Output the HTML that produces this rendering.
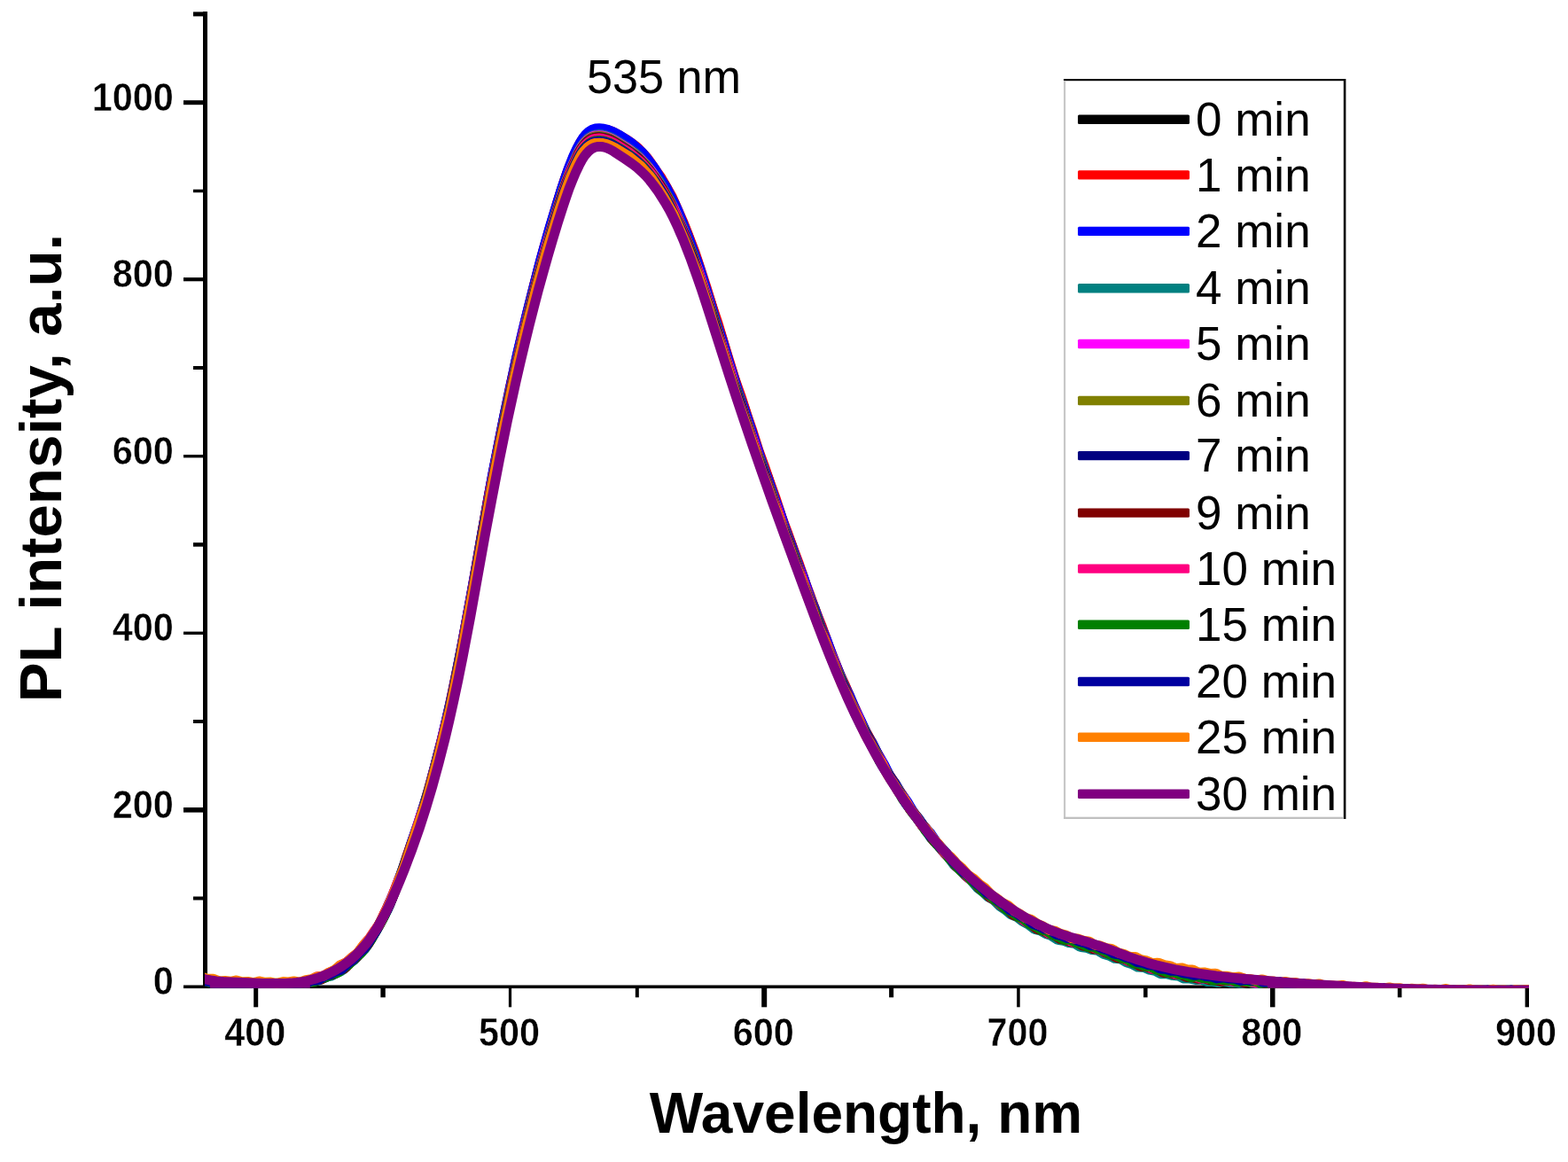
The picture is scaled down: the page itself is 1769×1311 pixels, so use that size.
<!DOCTYPE html>
<html><head><meta charset="utf-8"><title>PL intensity vs Wavelength</title>
<style>
html,body{margin:0;padding:0;background:#fff;}
body{width:1769px;height:1311px;overflow:hidden;}
svg{display:block;}
text{font-family:"Liberation Sans",sans-serif;fill:#000;}
.tl{font-weight:bold;font-size:41.4px;stroke:#fff;stroke-width:0.45px;}
.xt{font-weight:bold;font-size:64px;}
.yt{font-weight:bold;font-size:67.3px;}
.lg{font-size:53px;}
</style></head><body>
<svg width="1769" height="1311" viewBox="0 0 1769 1311">
<rect width="1769" height="1311" fill="#fff"/>
<defs><clipPath id="plot"><rect x="231" y="0" width="1494" height="1114.7"/></clipPath></defs>

<g fill="#000">
<rect x="229" y="13" width="5" height="1102"/>
<rect x="207" y="1111.5" width="1518" height="3.6"/>
<rect x="218" y="1011.5" width="13" height="4"/>
<rect x="207" y="911.0" width="24" height="5.6"/>
<rect x="218" y="812.0" width="13" height="4"/>
<rect x="207" y="712.6" width="24" height="3.4"/>
<rect x="218" y="612.2" width="13" height="4.5"/>
<rect x="207" y="513.0" width="24" height="3.4"/>
<rect x="218" y="413.0" width="13" height="4"/>
<rect x="207" y="313.1" width="24" height="4.2"/>
<rect x="218" y="213.7" width="13" height="3.5"/>
<rect x="207" y="113.2" width="24" height="5"/>
<rect x="218" y="13.4" width="13" height="5"/>
<rect x="286.2" y="1113" width="5" height="23.3"/>
<rect x="429.4" y="1113" width="5.4" height="12.3"/>
<rect x="573.9" y="1113" width="3.2" height="23.3"/>
<rect x="716.8" y="1113" width="4" height="12.3"/>
<rect x="859.2" y="1113" width="6" height="23.3"/>
<rect x="1003.1" y="1113" width="5" height="12.3"/>
<rect x="1147.2" y="1113" width="3.5" height="23.3"/>
<rect x="1290.1" y="1113" width="4.5" height="12.3"/>
<rect x="1433.0" y="1113" width="5.5" height="23.3"/>
<rect x="1576.8" y="1113" width="4.6" height="12.3"/>
<rect x="1720.6" y="1113" width="4.4" height="23.3"/>
</g>
<text class="tl" transform="translate(195.8,1122.2) scale(1.0,1.07)" text-anchor="end">0</text>
<text class="tl" transform="translate(195.8,922.7) scale(1.0,1.07)" text-anchor="end">200</text>
<text class="tl" transform="translate(195.8,723.2) scale(1.0,1.07)" text-anchor="end">400</text>
<text class="tl" transform="translate(195.8,523.6) scale(1.0,1.07)" text-anchor="end">600</text>
<text class="tl" transform="translate(195.8,324.1) scale(1.0,1.07)" text-anchor="end">800</text>
<text class="tl" transform="translate(195.8,124.6) scale(1.0,1.07)" text-anchor="end">1000</text>
<text class="tl" transform="translate(287.7,1179.9) scale(1.0,1.07)" text-anchor="middle">400</text>
<text class="tl" transform="translate(574.5,1179.9) scale(1.0,1.07)" text-anchor="middle">500</text>
<text class="tl" transform="translate(861.2,1179.9) scale(1.0,1.07)" text-anchor="middle">600</text>
<text class="tl" transform="translate(1148.0,1179.9) scale(1.0,1.07)" text-anchor="middle">700</text>
<text class="tl" transform="translate(1434.7,1179.9) scale(1.0,1.07)" text-anchor="middle">800</text>
<text class="tl" transform="translate(1721.5,1179.9) scale(1.0,1.07)" text-anchor="middle">900</text>
<text class="xt" x="977" y="1277.7" text-anchor="middle">Wavelength, nm</text>
<text class="yt" transform="translate(69.4,528) rotate(-90)" text-anchor="middle">PL intensity, a.u.</text>
<text class="lg" transform="translate(749,105) scale(1,1.04)" text-anchor="middle" style="font-size:52.2px">535 nm</text>
<g clip-path="url(#plot)" fill="none" stroke-width="11.0" stroke-linejoin="round" stroke-linecap="butt">
<path d="M226.0,1103.9 229.8,1104.1 236.5,1107.0 242.8,1107.5 248.5,1109.2 250.5,1109.1 256.0,1107.9 262.2,1109.1 268.8,1108.9 275.0,1110.6 276.8,1110.4 282.0,1109.2 288.2,1110.0 294.0,1109.4 296.0,1109.8 300.0,1111.3 302.0,1111.5 308.0,1110.4 314.5,1110.8 320.2,1109.6 322.2,1109.8 326.2,1110.9 328.5,1110.9 333.8,1109.6 339.8,1109.3 346.5,1106.3 348.2,1106.1 353.5,1106.1 359.8,1103.8 365.2,1102.9 367.5,1101.7 373.0,1097.7 380.0,1095.2 385.5,1091.4 391.0,1088.8 393.5,1086.7 399.0,1080.3 405.5,1074.4 411.5,1066.7 417.8,1060.0 420.2,1056.1 432.0,1034.8 437.8,1021.7 443.0,1010.8 445.5,1004.7 456.5,974.5 463.8,952.0 471.0,932.0 483.0,893.3 498.0,836.4 509.0,789.2 521.5,726.1 534.8,654.3 542.5,608.7 553.8,546.2 568.8,469.8 581.8,408.1 594.0,356.4 607.8,301.7 619.5,260.1 632.8,215.9 640.5,193.4 646.5,178.2 654.5,161.7 657.5,156.9 660.5,153.1 664.0,149.8 667.8,147.4 671.8,146.1 676.2,145.8 681.0,146.2 686.0,147.4 691.0,149.2 696.8,152.0 711.0,160.7 723.2,170.8 726.5,174.5 736.0,186.8 743.5,198.4 749.0,206.3 751.8,211.1 761.0,229.2 775.8,263.8 787.8,297.2 795.5,322.2 802.5,342.8 808.2,361.8 814.5,380.9 821.8,405.9 833.5,442.1 840.5,461.9 847.5,484.5 859.2,519.3 867.0,540.0 873.2,559.1 879.5,576.5 885.8,595.4 893.5,615.2 899.2,632.1 905.8,649.5 912.5,669.7 918.8,685.2 925.2,703.3 931.2,718.3 938.5,738.9 951.0,768.9 958.0,783.8 964.2,799.4 977.0,826.0 983.5,837.0 990.5,851.5 996.8,862.3 1002.0,872.4 1004.5,876.4 1010.0,883.8 1016.0,894.3 1022.5,903.7 1029.0,914.8 1035.8,922.6 1042.2,931.9 1048.2,938.9 1056.0,950.4 1062.0,956.3 1068.2,963.8 1074.5,969.5 1081.8,979.0 1087.8,984.2 1093.5,990.4 1100.8,995.5 1107.5,1003.0 1113.8,1007.9 1119.5,1013.5 1121.5,1014.8 1125.2,1016.4 1127.2,1017.7 1133.0,1023.0 1139.5,1027.2 1145.5,1032.6 1147.5,1033.8 1151.5,1035.0 1153.5,1035.9 1159.2,1040.1 1165.8,1043.1 1170.8,1047.2 1172.8,1048.4 1179.0,1050.1 1185.5,1053.4 1191.2,1054.7 1197.0,1058.5 1199.0,1059.5 1205.0,1060.5 1211.0,1062.8 1217.5,1063.2 1219.2,1063.9 1224.2,1066.8 1230.8,1068.2 1236.5,1070.9 1244.0,1071.7 1250.5,1075.4 1257.0,1077.5 1262.8,1080.9 1264.5,1081.4 1268.5,1081.6 1270.5,1082.0 1276.2,1085.0 1282.8,1086.7 1289.0,1090.3 1291.0,1090.7 1295.8,1090.8 1302.2,1093.1 1308.2,1093.7 1314.0,1096.8 1316.0,1097.5 1322.0,1097.7 1328.2,1099.4 1334.5,1099.2 1341.5,1102.2 1347.8,1102.6 1353.2,1104.1 1355.2,1104.1 1359.0,1103.4 1361.0,1103.3 1367.2,1105.3 1373.5,1105.5 1379.5,1107.0 1381.5,1106.9 1385.2,1105.8 1387.2,1105.6 1393.2,1106.9 1399.8,1106.8 1406.0,1108.6 1407.8,1108.5 1413.0,1107.4 1419.2,1108.4 1424.8,1108.0 1426.8,1108.3 1430.8,1110.0 1432.8,1110.4 1438.5,1109.7 1445.0,1110.6 1451.2,1109.9 1459.0,1112.3 1464.8,1111.9 1471.0,1112.9 1477.8,1111.7 1484.8,1113.8 1490.8,1113.6 1497.0,1114.9 1502.5,1113.7 1504.5,1113.5 1510.5,1115.0 1516.8,1114.9 1523.0,1116.6 1530.2,1115.2 1536.2,1116.2 1542.5,1115.8 1547.8,1117.6 1549.5,1117.9 1555.8,1116.7 1562.0,1117.4 1568.2,1116.6 1570.2,1116.9 1574.2,1118.4 1576.0,1118.7 1581.8,1117.9 1588.2,1118.6 1594.8,1117.3 1601.5,1119.1 1607.8,1118.7 1613.5,1119.7 1615.5,1119.4 1619.5,1118.2 1621.2,1118.0 1627.0,1119.3 1633.5,1119.1 1639.8,1120.4 1641.5,1120.2 1645.5,1119.0 1647.5,1118.7 1653.2,1119.6 1659.8,1119.1 1666.2,1120.8 1672.8,1119.4 1679.2,1119.9 1685.0,1119.0 1687.0,1119.2 1691.2,1120.7 1693.2,1120.8 1699.0,1119.7 1705.2,1120.2 1711.5,1118.8 1713.2,1119.0 1718.5,1120.5 1724.8,1119.8 1730.0,1120.5" stroke="#000000"/>
<path d="M226.0,1103.0 231.5,1105.1 238.0,1105.6 243.0,1107.9 245.0,1108.4 251.2,1107.8 257.5,1108.6 263.8,1107.6 270.8,1109.6 277.0,1109.0 283.0,1109.9 290.2,1108.5 296.8,1110.2 303.0,1109.9 309.0,1111.0 316.5,1109.2 322.5,1110.1 328.8,1109.2 333.8,1110.0 335.5,1110.0 337.2,1109.5 342.0,1107.3 348.5,1106.7 354.5,1104.4 360.0,1104.3 362.0,1103.9 368.2,1100.1 374.5,1097.7 381.0,1093.1 387.8,1090.5 394.2,1084.6 400.5,1079.5 407.0,1071.2 412.2,1066.2 414.2,1063.9 424.8,1048.4 427.5,1043.5 433.2,1031.0 438.8,1020.2 452.5,986.1 459.2,965.3 465.5,947.8 478.2,909.4 491.2,862.7 504.0,811.5 517.8,745.7 531.2,673.4 551.0,560.7 562.8,499.5 575.5,436.6 589.5,374.6 602.5,321.7 613.2,281.4 628.2,230.3 637.5,201.3 642.8,186.9 650.5,169.1 653.5,163.0 656.2,158.4 659.5,153.9 662.8,150.4 665.8,148.1 668.8,146.6 672.2,145.7 676.2,145.4 680.5,145.7 685.0,146.6 689.8,148.1 694.2,150.1 706.8,157.2 717.2,164.8 720.2,167.3 729.5,177.2 733.2,182.0 738.8,190.4 745.8,200.3 758.2,222.0 771.0,250.9 784.0,284.5 797.0,324.3 803.5,345.5 810.0,364.7 816.8,387.7 829.2,428.0 836.5,448.6 842.5,467.5 849.0,486.4 855.8,508.0 862.0,524.8 868.5,544.0 874.5,560.3 882.2,584.2 888.2,600.1 894.5,618.1 901.2,635.5 908.5,657.3 914.0,671.8 920.2,689.7 927.0,706.2 934.0,726.1 947.0,759.6 953.0,772.2 959.5,788.1 965.8,801.4 973.0,818.2 979.2,829.3 985.8,842.4 991.8,852.7 998.5,866.5 1005.2,876.9 1010.8,886.3 1018.0,896.5 1025.8,910.0 1031.0,916.8 1037.2,926.1 1044.5,934.2 1051.2,944.3 1057.0,950.9 1063.0,959.0 1070.5,965.7 1076.5,973.3 1082.8,979.5 1089.8,987.9 1096.0,992.3 1102.5,998.9 1108.5,1003.5 1115.8,1011.4 1122.2,1015.3 1128.8,1020.7 1134.8,1024.1 1142.0,1031.0 1148.2,1034.2 1154.2,1038.5 1161.0,1040.9 1167.8,1046.3 1174.0,1048.9 1179.5,1052.4 1181.5,1053.1 1187.2,1054.0 1193.5,1057.7 1199.8,1059.6 1206.2,1063.0 1213.8,1063.4 1219.5,1065.9 1226.0,1067.2 1232.8,1070.9 1239.2,1071.6 1245.5,1074.3 1251.2,1075.5 1253.2,1076.5 1259.0,1080.4 1265.2,1081.7 1271.5,1084.5 1277.8,1085.4 1285.5,1089.8 1291.0,1090.8 1297.2,1093.4 1302.8,1093.3 1304.5,1093.6 1310.5,1096.4 1317.0,1097.6 1323.0,1100.0 1324.8,1100.2 1328.8,1099.6 1330.5,1099.7 1336.8,1101.7 1343.0,1102.4 1349.2,1104.9 1351.2,1105.0 1356.2,1104.3 1362.5,1105.5 1368.5,1105.3 1375.8,1107.6 1382.2,1106.8 1388.8,1107.6 1394.8,1106.6 1401.8,1108.7 1408.0,1108.2 1414.0,1109.1 1419.5,1108.0 1421.2,1107.9 1427.5,1109.8 1434.0,1109.9 1439.8,1111.4 1441.8,1111.3 1445.5,1110.3 1447.5,1110.2 1453.8,1111.7 1460.0,1111.8 1466.2,1113.6 1468.0,1113.5 1473.2,1112.4 1479.5,1113.5 1485.5,1113.1 1491.2,1115.1 1493.0,1115.4 1499.0,1114.4 1505.5,1115.2 1511.5,1114.4 1519.2,1116.7 1525.2,1116.1 1531.5,1116.9 1538.0,1115.7 1544.8,1117.6 1551.0,1117.3 1556.5,1118.4 1558.5,1118.3 1562.5,1117.1 1564.5,1116.9 1570.8,1118.3 1577.2,1118.2 1583.0,1119.6 1585.0,1119.4 1590.2,1118.0 1596.5,1119.0 1602.5,1118.5 1609.8,1120.4 1616.0,1119.1 1622.5,1119.6 1628.2,1118.8 1630.0,1119.0 1634.2,1120.5 1636.2,1120.8 1642.2,1119.8 1648.5,1120.3 1654.8,1119.0 1662.2,1120.8 1668.0,1120.2 1674.2,1121.0 1681.2,1119.3 1687.5,1120.6 1694.0,1120.2 1699.8,1121.4 1701.8,1121.1 1705.5,1119.9 1707.5,1119.5 1713.8,1120.4 1720.0,1119.9 1726.2,1121.4 1730.0,1120.6" stroke="#ff0000"/>
<path d="M226.0,1105.9 231.0,1105.9 237.5,1107.8 243.8,1108.0 249.0,1110.1 251.0,1110.5 257.2,1109.6 263.8,1110.2 269.5,1109.3 271.2,1109.5 275.2,1111.0 277.0,1111.4 283.0,1110.7 289.5,1111.5 296.0,1110.2 302.8,1112.0 309.0,1111.6 315.0,1112.6 322.2,1110.6 328.5,1111.3 334.8,1110.1 341.0,1110.3 343.0,1109.6 348.8,1106.8 354.5,1106.0 361.0,1103.5 365.8,1103.3 367.5,1102.9 369.5,1101.9 374.2,1098.6 380.5,1095.8 387.0,1090.7 393.5,1087.7 395.5,1085.9 400.5,1080.4 405.0,1076.3 407.5,1073.2 413.0,1065.1 418.0,1059.5 420.2,1056.4 432.5,1034.9 439.2,1018.4 445.8,1003.6 459.0,967.8 465.2,947.7 472.2,927.4 483.8,890.7 498.0,835.9 510.8,780.6 521.5,726.0 536.5,643.5 555.5,536.1 569.0,468.0 584.0,397.5 594.8,352.2 609.5,294.6 620.5,255.4 633.8,212.2 641.0,191.1 647.2,175.3 651.2,166.9 654.8,160.3 658.0,155.2 661.0,151.6 664.5,148.4 668.0,146.3 671.8,145.1 676.0,144.7 681.2,145.3 686.8,146.7 692.0,148.9 699.2,152.7 712.0,160.8 724.5,171.9 728.5,176.6 738.8,190.3 744.8,200.6 751.8,211.5 762.2,231.8 765.2,238.5 777.0,268.4 789.8,303.7 809.2,366.8 816.2,387.6 822.5,408.8 834.8,447.6 842.5,469.3 862.0,528.7 868.0,544.5 874.5,563.5 880.5,579.6 888.2,603.2 894.2,618.8 900.5,636.5 907.0,653.0 914.5,675.3 920.0,689.5 926.2,706.9 932.8,722.3 940.0,742.2 952.2,772.5 959.0,786.1 965.5,801.4 971.8,814.1 978.2,828.7 985.2,840.5 991.8,853.2 997.8,863.1 1003.2,874.2 1005.8,878.5 1011.2,886.2 1017.5,896.4 1024.0,905.1 1031.0,917.1 1037.2,924.9 1043.0,933.2 1049.8,940.2 1056.8,950.4 1063.0,957.3 1068.8,964.8 1070.8,966.7 1076.2,971.1 1082.5,978.8 1088.8,984.7 1095.2,992.3 1102.8,997.4 1108.5,1003.2 1115.0,1008.1 1121.8,1015.2 1128.2,1018.7 1134.8,1024.0 1140.5,1027.0 1148.0,1033.8 1154.2,1036.7 1160.2,1040.8 1166.8,1042.9 1173.8,1048.2 1180.0,1050.6 1185.5,1053.8 1187.5,1054.4 1191.5,1054.7 1193.2,1055.1 1199.5,1058.7 1205.8,1060.4 1212.0,1063.5 1213.8,1063.8 1217.8,1063.6 1219.8,1063.9 1225.5,1066.4 1232.0,1067.9 1238.5,1071.6 1245.8,1072.6 1251.5,1075.3 1257.8,1076.9 1265.0,1081.5 1271.2,1082.7 1277.5,1085.4 1283.8,1086.2 1291.2,1090.4 1297.0,1091.4 1303.2,1093.7 1310.2,1093.8 1316.5,1096.7 1323.0,1097.7 1329.0,1100.0 1330.8,1100.1 1336.2,1099.5 1342.8,1101.6 1349.0,1102.2 1355.2,1104.6 1357.0,1104.6 1362.2,1103.7 1368.5,1105.0 1374.2,1104.7 1381.8,1107.1 1388.0,1106.2 1394.2,1106.9 1400.2,1106.1 1402.2,1106.4 1406.2,1108.0 1408.2,1108.4 1414.0,1107.9 1420.5,1108.8 1427.0,1107.7 1433.8,1109.8 1440.0,1109.9 1445.5,1111.2 1447.5,1111.2 1451.5,1110.1 1453.5,1110.0 1459.8,1111.6 1466.2,1111.7 1472.2,1113.4 1474.0,1113.3 1479.2,1112.1 1485.5,1113.2 1491.5,1113.0 1498.8,1115.2 1505.0,1114.1 1511.5,1114.9 1517.2,1114.2 1519.0,1114.5 1523.2,1116.1 1525.2,1116.5 1531.2,1115.8 1537.5,1116.5 1543.8,1115.3 1551.2,1117.4 1557.0,1117.0 1563.2,1118.0 1568.8,1116.6 1570.5,1116.5 1576.5,1117.9 1582.8,1117.8 1588.8,1119.1 1590.8,1119.0 1594.8,1117.7 1596.8,1117.5 1602.5,1118.5 1609.0,1118.2 1615.5,1119.9 1622.2,1118.5 1628.5,1119.1 1634.2,1118.3 1636.0,1118.6 1640.0,1120.0 1642.0,1120.3 1648.2,1119.3 1654.5,1119.8 1660.8,1118.5 1668.2,1120.4 1674.0,1119.7 1680.2,1120.3 1685.5,1118.9 1687.2,1118.7 1693.5,1120.1 1700.0,1119.7 1705.8,1120.7 1707.8,1120.5 1711.5,1119.2 1713.5,1118.8 1719.8,1119.8 1726.0,1119.3 1730.0,1120.4" stroke="#0000ff"/>
<path d="M226.0,1103.8 229.2,1105.9 231.2,1106.8 237.2,1107.3 243.0,1108.8 244.8,1108.8 248.8,1107.9 250.5,1107.8 256.8,1109.6 263.0,1109.5 269.2,1110.8 271.2,1110.5 275.2,1109.3 277.0,1109.2 282.8,1110.3 289.2,1110.2 294.0,1111.7 295.8,1111.9 302.2,1110.5 308.8,1111.3 314.8,1110.5 322.0,1112.3 328.5,1110.7 334.8,1110.5 341.0,1108.5 346.8,1109.1 348.8,1108.9 354.2,1106.9 360.5,1105.8 367.5,1102.0 374.0,1101.0 380.0,1097.6 384.8,1095.6 387.0,1094.2 393.2,1087.8 400.2,1082.7 406.0,1076.2 411.8,1070.5 414.0,1067.4 419.5,1057.8 425.8,1048.2 437.8,1025.1 440.5,1018.6 451.0,990.6 458.0,970.0 464.5,952.8 476.5,915.8 491.2,864.8 502.5,819.8 516.8,753.0 527.5,697.1 548.2,579.6 564.0,496.8 576.0,438.6 589.0,381.5 602.5,326.4 614.5,282.7 627.2,238.7 638.2,205.1 645.0,187.6 653.0,169.8 656.2,164.3 659.8,159.7 663.5,155.9 667.0,153.5 671.0,152.1 675.8,151.6 679.5,152.0 683.5,152.9 687.8,154.4 692.0,156.4 706.8,165.5 716.2,172.2 719.5,174.9 731.2,187.5 743.2,203.5 746.2,208.3 757.2,228.3 770.5,256.8 783.0,290.5 789.8,311.3 797.2,332.5 808.8,369.0 816.2,394.7 822.5,413.1 828.8,433.0 835.0,451.0 842.2,474.7 854.5,510.4 861.2,528.5 868.0,549.4 874.2,566.6 880.0,583.6 887.2,602.0 893.8,621.2 900.0,638.0 906.2,656.3 913.8,674.8 919.8,691.8 926.2,708.6 932.5,726.5 939.5,742.7 945.8,758.6 952.0,772.5 959.2,790.9 965.5,803.5 971.5,816.5 978.5,829.3 986.0,845.5 991.2,854.5 997.2,865.9 1004.2,876.1 1011.0,888.6 1017.0,897.6 1023.2,908.2 1030.5,917.0 1036.5,926.3 1043.0,934.6 1050.2,945.5 1056.2,951.3 1062.8,959.6 1068.8,965.7 1076.2,975.8 1082.5,981.1 1088.8,987.8 1095.0,992.7 1102.5,1001.5 1108.2,1005.8 1114.5,1011.7 1121.2,1015.6 1128.0,1022.4 1134.0,1026.3 1140.2,1031.7 1147.5,1034.7 1153.5,1039.5 1160.0,1043.0 1166.5,1048.0 1168.2,1048.7 1173.2,1049.8 1179.8,1053.5 1185.5,1055.4 1192.5,1060.0 1194.5,1060.6 1199.5,1061.2 1205.8,1063.6 1211.8,1064.4 1213.8,1065.3 1217.8,1067.8 1219.5,1068.5 1225.2,1069.2 1231.8,1071.6 1236.5,1071.9 1238.2,1072.3 1245.2,1076.4 1251.2,1078.1 1257.5,1081.3 1263.0,1081.8 1264.8,1082.2 1270.8,1085.8 1277.0,1087.6 1283.5,1091.1 1291.0,1091.6 1296.8,1094.1 1303.2,1095.4 1308.0,1098.0 1310.0,1098.7 1316.2,1098.7 1322.5,1100.5 1329.0,1100.9 1334.5,1103.6 1336.2,1104.1 1342.5,1104.1 1348.8,1105.5 1355.0,1105.0 1362.0,1107.6 1368.2,1107.5 1373.8,1108.5 1375.8,1108.4 1379.5,1107.3 1381.5,1107.1 1387.8,1108.8 1394.0,1108.5 1400.5,1109.8 1406.0,1108.4 1408.0,1108.2 1413.8,1109.4 1420.2,1109.3 1426.8,1111.2 1433.5,1110.1 1439.8,1111.2 1445.8,1110.9 1453.0,1113.3 1459.5,1112.5 1466.0,1113.4 1471.8,1112.6 1479.5,1115.0 1485.2,1114.5 1491.5,1115.5 1498.2,1114.3 1505.2,1116.2 1511.0,1116.0 1517.5,1117.3 1523.0,1116.0 1525.0,1115.9 1531.0,1117.3 1537.2,1117.1 1543.5,1118.8 1551.0,1117.3 1556.8,1118.3 1563.0,1117.9 1568.2,1119.6 1570.0,1119.9 1576.2,1118.7 1582.5,1119.3 1588.5,1118.4 1590.2,1118.7 1594.2,1120.1 1596.2,1120.5 1602.2,1119.7 1608.8,1120.3 1615.0,1119.0 1622.5,1120.8 1628.2,1120.4 1634.5,1121.3 1640.0,1119.7 1641.8,1119.6 1647.5,1120.9 1654.0,1120.6 1660.2,1121.9 1662.0,1121.7 1667.5,1120.1 1673.8,1121.0 1679.8,1120.4 1686.8,1122.1 1693.8,1120.6 1699.5,1121.1 1706.0,1120.2 1711.5,1121.8 1713.2,1122.0 1719.5,1120.9 1725.8,1121.3 1730.0,1120.2" stroke="#008080"/>
<path d="M226.0,1103.7 233.5,1106.0 240.5,1105.8 245.8,1107.9 247.8,1108.3 253.2,1108.1 259.5,1109.2 265.0,1107.8 266.8,1107.7 272.8,1109.2 279.0,1109.0 285.5,1110.4 287.2,1110.2 291.2,1109.0 293.0,1108.9 298.8,1109.9 305.2,1109.6 311.8,1111.2 313.5,1111.0 318.2,1109.6 324.8,1109.9 330.8,1108.5 336.5,1109.5 338.2,1109.5 344.5,1107.2 350.8,1106.2 357.2,1103.1 362.5,1102.9 364.2,1102.5 370.2,1099.3 374.8,1097.7 376.8,1096.7 383.2,1091.2 390.5,1087.8 396.0,1082.9 402.0,1078.4 404.2,1075.8 409.5,1068.4 416.5,1060.4 422.0,1051.9 427.2,1044.6 430.5,1038.6 441.8,1013.6 456.0,977.3 467.5,943.2 474.0,922.4 480.8,902.4 494.5,852.3 507.2,798.9 518.8,743.9 533.0,666.4 553.5,551.6 564.8,493.6 577.8,431.7 591.5,371.2 604.5,320.2 616.0,277.6 630.0,231.3 638.5,205.4 644.0,190.5 650.5,176.0 653.5,170.0 656.2,165.4 659.2,161.3 662.5,157.9 665.5,155.5 668.5,153.9 672.0,152.9 675.8,152.7 680.0,153.1 684.5,154.2 688.8,155.8 693.8,158.4 708.8,167.7 722.2,178.6 732.2,189.3 735.8,193.9 747.5,211.9 760.0,234.0 772.5,263.4 779.5,282.8 787.0,302.2 798.8,338.3 806.0,362.7 812.2,381.1 818.8,402.4 824.8,420.5 832.0,444.6 838.5,463.0 844.8,482.1 851.0,499.4 858.2,522.4 864.2,538.7 870.0,555.7 877.0,573.8 884.0,595.0 890.2,611.8 895.8,627.9 903.8,647.9 922.2,700.0 929.5,717.3 935.5,733.5 941.8,748.5 949.5,768.9 955.5,781.4 961.8,795.8 968.2,808.7 975.8,825.9 981.2,835.6 987.5,847.9 994.5,859.1 1001.0,872.0 1007.2,881.8 1013.0,891.7 1020.2,901.1 1027.0,912.3 1033.0,920.4 1039.8,930.7 1046.8,938.0 1052.8,946.4 1059.2,953.7 1065.8,962.8 1072.2,968.4 1078.8,975.8 1084.8,981.1 1092.5,990.5 1098.5,994.9 1104.8,1000.9 1111.0,1005.0 1118.5,1012.9 1124.2,1016.7 1130.2,1021.8 1137.2,1025.1 1144.0,1031.2 1150.2,1034.7 1156.0,1039.3 1158.0,1040.2 1161.8,1041.0 1163.8,1041.8 1169.5,1045.9 1176.0,1048.7 1182.5,1053.1 1184.5,1053.7 1189.2,1054.3 1195.8,1057.4 1201.8,1058.8 1207.2,1062.1 1209.2,1062.9 1215.2,1063.4 1221.5,1065.6 1228.0,1066.4 1235.2,1070.5 1241.2,1071.6 1247.8,1074.5 1254.0,1075.3 1255.8,1076.1 1261.0,1079.6 1267.2,1081.4 1272.8,1084.4 1274.8,1084.9 1278.8,1084.9 1280.8,1085.3 1286.5,1088.4 1293.0,1090.0 1299.0,1093.0 1301.0,1093.4 1305.0,1093.1 1307.0,1093.3 1312.8,1095.5 1319.2,1096.4 1324.2,1098.9 1326.0,1099.5 1332.2,1099.3 1338.5,1100.8 1344.8,1100.9 1346.8,1101.5 1350.8,1103.5 1352.8,1104.0 1358.5,1103.7 1364.8,1104.9 1369.5,1104.1 1371.5,1104.1 1378.5,1106.3 1384.2,1106.1 1390.5,1107.2 1396.0,1105.9 1397.8,1105.8 1403.8,1107.5 1410.0,1107.4 1416.2,1109.0 1418.0,1108.9 1423.5,1107.7 1430.0,1109.0 1435.5,1109.0 1442.8,1111.2 1449.2,1110.1 1455.8,1111.1 1461.5,1110.7 1463.5,1111.1 1467.5,1112.7 1469.5,1113.1 1475.5,1112.3 1481.8,1113.2 1488.0,1112.3 1495.0,1114.5 1501.2,1114.1 1507.0,1115.1 1514.5,1113.8 1520.8,1115.6 1527.2,1115.5 1533.0,1116.8 1534.8,1116.7 1538.8,1115.5 1540.8,1115.3 1547.0,1116.6 1553.2,1116.4 1559.5,1118.1 1561.2,1117.9 1566.5,1116.6 1572.8,1117.5 1578.8,1116.9 1586.0,1119.0 1592.2,1117.9 1598.5,1118.4 1604.8,1117.4 1612.5,1119.5 1618.2,1118.7 1624.8,1119.4 1631.2,1117.9 1637.8,1119.6 1644.2,1119.2 1649.8,1120.2 1651.8,1120.0 1655.8,1118.7 1657.8,1118.4 1664.0,1119.6 1670.5,1119.3 1676.2,1120.6 1678.2,1120.4 1683.5,1118.9 1689.8,1119.6 1695.8,1119.0 1701.2,1120.5 1703.0,1120.7 1709.2,1119.3 1715.8,1119.7 1721.8,1118.7 1723.8,1119.0 1727.8,1120.3 1730.0,1120.5" stroke="#ff00ff"/>
<path d="M226.0,1104.0 229.0,1105.0 234.8,1105.5 240.0,1108.0 242.2,1108.6 248.0,1108.1 254.2,1109.0 260.8,1108.0 267.5,1109.9 274.0,1109.5 279.8,1110.4 281.8,1110.1 285.5,1109.0 287.2,1108.9 293.5,1110.5 299.8,1110.3 306.0,1111.6 313.5,1109.8 319.2,1110.7 325.5,1110.0 330.8,1110.9 332.5,1110.9 339.0,1108.5 345.2,1107.9 351.5,1105.7 357.0,1105.9 359.2,1105.4 365.0,1102.3 371.2,1100.3 378.0,1095.8 383.0,1094.4 384.8,1093.6 391.0,1088.5 395.5,1085.4 397.5,1083.7 404.0,1075.7 411.0,1069.2 421.8,1054.5 424.5,1049.9 429.8,1039.0 436.5,1026.4 449.5,995.4 456.2,975.2 462.8,957.3 468.8,938.9 475.2,920.7 488.2,875.8 501.8,823.6 513.8,768.7 526.5,702.9 539.5,630.8 548.2,580.2 559.5,521.1 573.0,453.9 586.2,394.4 599.5,339.9 611.0,296.2 625.2,247.4 636.0,213.0 641.0,199.1 649.0,180.0 652.2,173.2 655.2,167.9 658.5,163.1 661.8,159.3 664.8,156.7 668.0,154.9 671.8,153.8 675.8,153.5 679.5,153.8 683.5,154.7 687.8,156.2 692.0,158.2 704.2,165.7 715.2,173.3 719.0,176.4 728.8,186.0 741.0,202.4 752.8,221.0 755.8,226.5 768.0,253.2 781.2,286.4 793.8,323.8 800.5,345.6 807.0,364.5 826.2,427.5 833.0,446.5 839.5,466.8 845.2,483.3 853.0,507.8 859.2,524.6 865.5,542.9 871.5,558.9 879.2,582.6 885.0,597.7 891.2,615.5 897.8,631.8 904.5,651.9 911.0,669.0 916.2,684.0 924.0,702.9 930.8,721.8 944.0,755.9 950.0,768.6 956.2,783.7 962.5,797.0 970.0,814.6 976.2,825.7 982.5,838.3 988.8,849.1 995.5,863.0 1002.2,873.5 1007.8,883.0 1014.8,892.7 1022.8,906.6 1028.0,913.5 1034.0,922.6 1041.5,931.0 1048.0,940.7 1053.8,947.4 1060.0,955.9 1067.2,962.4 1073.2,969.9 1079.5,976.0 1086.8,984.8 1093.0,989.2 1099.2,995.6 1105.2,1000.1 1112.8,1008.3 1119.2,1012.3 1125.5,1017.6 1131.8,1021.0 1139.0,1027.9 1145.0,1031.1 1151.2,1035.7 1158.0,1038.1 1164.5,1043.2 1170.8,1046.1 1176.8,1050.0 1178.8,1050.6 1182.5,1051.0 1184.2,1051.5 1190.2,1055.1 1196.8,1057.1 1203.0,1060.6 1204.8,1061.0 1210.5,1061.2 1216.5,1063.7 1222.8,1064.8 1229.8,1068.6 1236.0,1069.2 1242.2,1071.8 1248.0,1072.8 1250.0,1073.7 1254.0,1076.6 1256.0,1077.7 1262.0,1079.0 1268.2,1081.9 1274.8,1082.8 1282.2,1087.0 1287.8,1088.2 1294.2,1091.0 1299.8,1090.9 1301.5,1091.2 1307.2,1093.9 1313.8,1095.1 1320.0,1097.8 1321.8,1097.9 1325.8,1097.4 1327.8,1097.6 1333.5,1099.5 1339.8,1100.0 1344.8,1102.3 1346.8,1102.8 1353.0,1102.3 1359.2,1103.6 1365.5,1103.3 1371.2,1105.5 1373.0,1105.9 1379.0,1105.3 1385.5,1106.2 1391.8,1105.2 1398.5,1107.3 1405.0,1107.1 1410.8,1108.1 1412.8,1107.9 1416.5,1106.9 1418.2,1106.8 1424.2,1108.6 1430.8,1108.8 1436.8,1110.4 1438.5,1110.3 1442.5,1109.3 1444.5,1109.1 1450.5,1110.5 1456.8,1110.5 1463.2,1112.5 1465.0,1112.5 1470.0,1111.4 1476.2,1112.4 1482.5,1112.0 1488.0,1113.9 1490.0,1114.3 1496.2,1113.4 1502.5,1114.2 1508.5,1113.3 1510.5,1113.7 1514.5,1115.3 1516.2,1115.6 1522.0,1115.1 1528.2,1115.9 1535.0,1114.6 1541.5,1116.4 1547.8,1116.2 1553.5,1117.4 1555.5,1117.3 1559.5,1116.1 1561.5,1115.9 1567.5,1117.2 1574.0,1117.0 1580.0,1118.6 1582.0,1118.4 1587.0,1117.1 1593.5,1117.9 1599.5,1117.4 1605.0,1119.1 1606.8,1119.4 1612.8,1118.2 1619.2,1118.7 1625.2,1117.7 1627.2,1118.0 1631.5,1119.5 1633.2,1119.7 1639.0,1118.9 1645.2,1119.5 1651.8,1118.0 1659.0,1119.8 1664.8,1119.3 1671.2,1120.1 1676.5,1118.6 1678.5,1118.3 1684.2,1119.6 1690.8,1119.2 1697.0,1120.5 1698.8,1120.3 1702.5,1119.0 1704.5,1118.6 1710.5,1119.4 1716.8,1118.9 1723.5,1120.5 1730.0,1118.9" stroke="#808000"/>
<path d="M226.0,1103.7 230.8,1106.5 232.8,1107.3 239.0,1107.6 244.5,1108.9 251.8,1107.9 258.5,1109.9 264.8,1109.7 270.8,1110.7 272.8,1110.5 276.5,1109.3 278.5,1109.1 284.5,1110.5 291.0,1110.4 297.0,1111.9 298.8,1111.8 304.0,1110.4 310.2,1111.2 316.2,1110.6 323.2,1112.2 325.2,1111.9 330.0,1110.3 336.5,1109.9 342.5,1108.0 348.0,1108.5 350.0,1108.3 356.0,1105.8 362.2,1104.4 369.0,1100.6 375.5,1099.5 381.8,1095.6 386.2,1093.5 388.5,1091.9 394.8,1085.4 402.0,1080.1 407.5,1073.7 413.0,1068.0 415.2,1064.9 421.0,1054.7 427.5,1044.6 439.0,1022.1 441.8,1015.5 447.2,1000.1 452.8,985.9 459.5,966.1 466.0,949.0 478.0,911.4 492.5,861.0 503.5,816.2 520.2,736.5 530.5,682.0 538.2,636.8 550.0,571.9 565.2,492.4 577.5,434.0 590.5,377.4 603.5,325.1 616.0,280.0 628.5,237.5 639.0,205.9 645.0,190.4 653.2,172.4 656.2,167.3 659.5,163.0 663.2,159.2 667.0,156.6 671.0,155.2 675.8,154.7 679.8,155.1 683.8,156.0 688.0,157.5 692.5,159.7 708.2,169.5 717.2,176.0 720.5,178.8 732.8,192.3 744.5,208.3 747.5,213.2 758.5,233.7 771.8,262.5 784.5,297.4 791.2,318.3 798.5,338.7 810.5,377.1 817.5,401.0 836.2,457.0 843.5,480.6 850.0,498.6 856.2,517.2 862.5,533.9 869.5,555.7 875.8,572.6 881.5,589.3 888.8,607.7 895.5,627.7 901.8,644.4 907.5,661.0 915.2,680.1 921.0,696.5 927.5,713.3 933.8,730.9 941.2,748.1 947.5,763.8 953.5,777.2 960.5,794.7 967.0,807.3 973.2,820.6 979.8,832.3 987.5,848.8 992.8,857.4 999.0,868.8 1005.5,878.1 1012.5,891.0 1018.8,900.1 1024.8,909.8 1032.0,918.3 1038.2,927.9 1044.5,935.7 1051.5,945.8 1058.2,952.2 1064.2,959.8 1070.8,966.5 1077.5,975.3 1084.0,980.5 1090.5,987.3 1096.5,992.0 1103.8,1000.3 1110.0,1004.7 1116.0,1010.1 1122.5,1013.8 1129.5,1020.7 1135.8,1024.6 1141.8,1029.5 1149.0,1032.4 1155.2,1037.5 1161.5,1040.7 1167.8,1045.3 1169.8,1046.0 1175.2,1047.2 1181.5,1051.0 1187.8,1053.2 1194.0,1057.2 1196.0,1057.7 1200.8,1058.0 1207.2,1060.6 1213.2,1061.5 1215.2,1062.4 1219.0,1064.8 1221.0,1065.6 1226.8,1066.1 1233.0,1068.5 1239.5,1069.3 1246.8,1073.7 1252.8,1075.2 1259.2,1078.3 1264.2,1078.7 1266.0,1079.2 1272.5,1083.1 1278.8,1084.8 1284.8,1087.9 1286.5,1088.2 1292.0,1088.3 1298.5,1091.2 1304.8,1092.4 1311.0,1095.4 1312.8,1095.6 1318.0,1095.3 1324.2,1097.3 1330.0,1097.7 1337.5,1100.9 1344.0,1100.7 1350.5,1102.1 1356.2,1101.7 1358.2,1102.3 1362.2,1104.1 1364.2,1104.6 1369.8,1104.3 1376.2,1105.3 1382.8,1104.3 1389.5,1106.3 1395.8,1106.2 1401.5,1107.5 1403.2,1107.4 1407.2,1106.3 1409.2,1106.1 1415.5,1107.7 1421.8,1107.7 1428.0,1109.5 1429.8,1109.4 1435.0,1108.3 1441.2,1109.6 1447.0,1109.4 1454.5,1111.7 1460.8,1110.7 1467.2,1111.6 1473.2,1111.0 1475.2,1111.5 1479.2,1113.1 1481.2,1113.4 1487.0,1112.8 1493.2,1113.6 1499.8,1112.6 1506.5,1114.6 1512.8,1114.4 1518.5,1115.5 1520.5,1115.3 1524.5,1114.2 1526.2,1114.0 1532.2,1115.6 1538.5,1115.5 1544.8,1117.0 1546.5,1116.8 1550.5,1115.7 1552.5,1115.5 1558.2,1116.6 1564.8,1116.3 1571.2,1118.1 1578.0,1116.8 1584.2,1117.5 1590.0,1116.8 1592.0,1117.1 1596.2,1118.6 1598.0,1118.9 1604.0,1117.9 1610.5,1118.4 1616.5,1117.3 1618.2,1117.5 1623.5,1119.2 1629.8,1118.6 1635.5,1119.3 1643.0,1117.7 1649.2,1119.2 1655.8,1118.9 1661.8,1120.0 1663.8,1119.7 1667.8,1118.4 1669.5,1118.2 1675.5,1119.2 1681.8,1118.8 1688.0,1120.3 1689.8,1120.1 1693.5,1118.9 1695.5,1118.6 1701.2,1119.2 1707.5,1118.5 1714.5,1120.3 1720.8,1119.0 1726.8,1119.3 1730.0,1118.8" stroke="#000080"/>
<path d="M226.0,1103.1 228.2,1103.8 233.8,1106.6 240.0,1107.2 245.8,1108.9 247.8,1108.8 253.2,1107.7 259.8,1109.1 266.0,1109.0 272.0,1110.5 274.0,1110.3 279.2,1109.0 285.5,1109.9 291.2,1109.5 293.2,1109.9 297.2,1111.3 299.0,1111.5 305.0,1110.3 311.2,1110.9 317.5,1109.8 319.5,1110.1 323.5,1111.4 325.5,1111.5 331.0,1110.2 337.2,1110.0 344.0,1107.5 349.5,1108.0 351.2,1107.8 357.0,1105.9 363.2,1104.9 369.8,1100.9 376.8,1099.0 382.8,1095.4 388.8,1092.7 391.0,1090.8 396.2,1085.0 401.2,1081.0 403.5,1078.8 408.8,1072.4 414.2,1066.8 416.8,1063.4 422.2,1053.5 428.5,1043.2 435.0,1029.4 440.0,1019.7 443.0,1012.6 454.2,982.2 461.0,961.7 468.2,942.1 479.0,908.7 493.8,855.9 504.8,811.2 508.0,796.5 520.8,733.8 532.2,672.7 539.8,628.8 551.2,565.0 566.2,488.1 579.0,427.2 591.5,373.8 605.0,319.6 617.0,276.9 630.0,233.1 639.2,205.5 645.0,190.7 653.5,172.4 656.5,167.3 659.8,163.1 663.5,159.4 667.2,156.9 671.2,155.5 675.8,155.1 679.8,155.5 684.0,156.5 688.2,158.0 693.0,160.4 708.8,170.3 721.5,180.0 733.5,193.7 746.0,211.1 749.0,216.0 758.8,234.4 773.2,266.9 785.2,299.6 792.5,322.5 799.5,342.5 811.0,378.6 819.5,407.5 831.2,443.3 838.0,462.4 845.0,485.0 857.2,520.8 864.2,539.2 870.5,558.3 876.8,575.5 883.0,594.0 890.5,612.9 896.5,630.4 903.0,647.7 909.5,666.8 916.0,682.7 922.5,700.6 928.5,715.7 935.5,735.5 942.2,751.1 948.2,766.0 955.0,780.5 962.0,797.9 974.2,823.3 980.8,834.4 987.8,849.2 994.0,860.0 999.2,870.0 1001.5,873.7 1007.2,881.6 1013.5,892.7 1019.8,901.9 1026.2,912.8 1033.5,921.3 1039.5,930.2 1046.0,938.1 1051.0,945.9 1053.2,948.8 1059.2,954.7 1065.8,962.6 1071.8,968.2 1079.2,978.1 1085.0,983.0 1091.2,989.6 1098.0,994.4 1105.2,1002.6 1111.0,1007.0 1117.0,1012.7 1124.2,1016.6 1130.5,1022.6 1136.8,1026.6 1143.2,1032.3 1150.5,1035.1 1156.5,1039.6 1163.0,1042.8 1169.5,1047.9 1171.2,1048.6 1176.0,1049.6 1182.5,1053.1 1188.5,1054.7 1195.8,1059.3 1202.2,1060.5 1208.5,1062.9 1214.8,1063.4 1221.8,1067.1 1228.0,1068.3 1234.0,1070.8 1239.5,1071.1 1241.2,1071.5 1247.5,1075.1 1253.8,1077.1 1259.8,1080.5 1261.8,1081.0 1265.5,1081.1 1267.5,1081.6 1273.8,1084.8 1280.0,1086.6 1286.5,1090.2 1288.2,1090.5 1293.0,1090.6 1299.5,1093.0 1305.2,1093.7 1307.2,1094.5 1311.2,1096.8 1313.0,1097.4 1319.2,1097.6 1325.5,1099.3 1331.8,1099.3 1337.5,1102.0 1339.2,1102.5 1345.0,1102.7 1351.2,1104.2 1358.0,1103.5 1364.8,1105.7 1371.0,1105.8 1376.8,1107.2 1378.8,1107.0 1382.5,1106.0 1384.2,1105.8 1390.8,1107.2 1397.0,1107.1 1403.2,1108.8 1405.2,1108.6 1409.0,1107.5 1411.0,1107.4 1416.5,1108.4 1422.8,1108.2 1429.8,1110.5 1436.0,1109.6 1442.2,1110.6 1448.2,1110.0 1450.0,1110.3 1454.2,1112.0 1456.2,1112.4 1462.0,1111.9 1468.5,1112.8 1474.8,1111.8 1482.2,1114.0 1488.0,1113.7 1494.2,1114.9 1499.8,1113.6 1501.5,1113.5 1507.2,1115.1 1513.8,1115.0 1519.8,1116.6 1521.8,1116.5 1525.8,1115.3 1527.8,1115.2 1533.5,1116.3 1540.0,1116.1 1546.5,1117.9 1553.0,1116.7 1559.5,1117.4 1565.2,1116.7 1567.2,1117.1 1571.5,1118.6 1573.2,1118.9 1579.2,1118.0 1585.5,1118.6 1591.8,1117.4 1598.8,1119.4 1605.0,1118.8 1610.8,1119.7 1618.2,1118.1 1624.5,1119.6 1630.8,1119.3 1637.0,1120.5 1639.0,1120.2 1643.0,1118.9 1644.8,1118.7 1650.5,1119.8 1657.0,1119.4 1663.5,1121.0 1670.8,1119.3 1676.5,1120.0 1682.8,1119.2 1689.8,1121.1 1696.2,1119.8 1702.8,1120.2 1708.5,1119.0 1710.2,1119.2 1714.0,1120.5 1716.0,1120.8 1721.8,1120.0 1727.2,1120.5 1730.0,1120.1" stroke="#800000"/>
<path d="M226.0,1103.9 228.5,1104.3 234.0,1106.2 240.8,1105.8 247.8,1108.2 254.0,1108.2 259.5,1109.3 261.5,1109.2 265.5,1108.0 267.5,1107.8 273.8,1109.2 280.0,1109.0 285.8,1110.4 287.8,1110.3 291.8,1109.2 293.8,1108.9 299.5,1109.9 305.8,1109.5 312.5,1111.2 314.2,1110.9 319.2,1109.5 325.8,1109.6 331.5,1108.1 338.8,1108.9 345.2,1106.4 351.0,1105.4 358.0,1101.7 363.2,1101.2 365.2,1100.7 371.0,1097.4 376.8,1095.1 378.8,1093.6 383.8,1089.1 390.8,1085.6 396.8,1080.3 402.0,1076.6 404.8,1073.7 410.5,1065.7 417.0,1058.4 422.8,1049.6 428.0,1042.4 431.2,1036.5 442.2,1012.2 448.5,995.8 454.2,982.1 456.8,975.4 468.2,941.5 474.8,920.6 481.5,900.6 495.0,851.4 508.0,796.6 519.5,741.5 553.2,555.0 566.8,486.0 579.5,426.2 591.2,374.8 605.0,321.2 616.5,278.9 630.5,232.9 637.8,211.0 643.8,194.4 650.5,179.4 653.8,173.0 656.5,168.4 659.2,164.7 662.5,161.3 665.8,158.8 668.8,157.2 672.0,156.4 675.8,156.1 680.0,156.5 684.5,157.7 688.8,159.3 693.8,161.8 709.5,171.6 722.8,182.5 733.0,193.6 736.5,198.1 748.2,216.3 760.8,238.7 773.2,268.3 780.2,287.9 787.8,307.3 799.5,343.3 807.0,368.5 813.0,386.2 819.5,407.3 825.5,425.2 833.0,450.0 839.2,467.7 845.5,486.7 851.8,503.8 859.0,526.6 865.0,543.0 870.8,559.9 877.8,577.9 884.5,598.2 891.0,615.7 896.5,631.7 904.5,651.7 923.2,704.1 930.2,720.8 936.2,736.8 942.5,751.6 950.2,771.9 956.2,784.3 962.5,798.6 969.0,811.3 976.5,828.3 982.0,838.0 988.2,850.2 995.2,861.2 1001.8,873.9 1008.0,883.7 1013.8,893.6 1021.0,902.8 1027.5,913.5 1033.8,921.8 1040.8,932.5 1047.5,939.4 1053.5,947.6 1060.0,954.8 1066.5,963.8 1073.2,969.7 1079.8,977.0 1085.5,981.8 1093.2,991.2 1099.0,995.4 1105.2,1001.4 1111.8,1005.5 1118.8,1012.9 1125.0,1017.1 1131.0,1022.3 1138.0,1025.4 1144.5,1031.1 1150.8,1034.7 1157.0,1039.6 1158.8,1040.4 1162.5,1041.2 1164.5,1042.0 1170.5,1046.0 1177.0,1048.8 1183.2,1053.1 1185.2,1053.7 1190.0,1054.3 1196.5,1057.3 1202.5,1058.6 1208.2,1062.0 1210.0,1062.7 1216.2,1063.3 1222.5,1065.5 1228.8,1066.1 1236.0,1070.2 1242.0,1071.5 1248.5,1074.4 1255.0,1075.2 1261.5,1079.2 1267.8,1081.1 1273.5,1084.2 1275.5,1084.7 1279.5,1084.8 1281.5,1085.2 1287.8,1088.3 1294.0,1089.7 1300.0,1092.8 1302.0,1093.1 1307.0,1092.9 1313.5,1095.1 1319.2,1095.7 1326.8,1099.1 1332.8,1098.9 1339.2,1100.5 1345.5,1100.4 1347.5,1101.0 1351.5,1103.0 1353.2,1103.4 1359.0,1103.3 1365.2,1104.5 1372.0,1103.6 1378.5,1105.7 1385.0,1105.7 1390.5,1106.9 1392.5,1106.8 1396.5,1105.7 1398.5,1105.5 1404.8,1107.1 1411.2,1107.2 1417.0,1108.8 1418.8,1108.7 1424.2,1107.5 1430.5,1108.8 1436.2,1108.7 1443.5,1110.9 1450.0,1110.0 1456.2,1110.9 1462.2,1110.4 1464.2,1110.8 1468.5,1112.5 1470.5,1112.8 1476.0,1112.1 1482.5,1113.0 1488.8,1112.0 1495.8,1114.2 1502.0,1113.9 1507.8,1114.9 1515.2,1113.6 1521.5,1115.2 1527.8,1115.1 1534.0,1116.6 1541.5,1115.0 1547.5,1116.2 1554.0,1116.0 1560.5,1117.8 1567.5,1116.4 1573.5,1117.2 1579.8,1116.6 1585.2,1118.4 1587.0,1118.7 1593.2,1117.6 1599.8,1118.2 1605.5,1117.1 1607.2,1117.4 1612.8,1119.1 1619.0,1118.5 1624.8,1119.2 1632.0,1117.6 1638.5,1119.2 1644.8,1118.9 1650.8,1119.9 1652.8,1119.7 1657.0,1118.3 1658.8,1118.1 1664.5,1119.3 1671.0,1118.9 1677.2,1120.3 1684.5,1118.6 1690.5,1119.3 1696.8,1118.6 1702.0,1120.2 1703.8,1120.4 1710.0,1119.0 1716.2,1119.4 1722.5,1118.3 1730.0,1120.1" stroke="#ff0080"/>
<path d="M226.0,1105.2 231.2,1106.1 236.5,1108.6 238.8,1109.2 244.5,1108.5 251.0,1109.6 257.0,1109.0 259.0,1109.4 263.0,1110.9 264.8,1111.2 270.8,1110.3 277.2,1110.9 283.5,1109.8 290.2,1111.8 296.8,1111.4 302.2,1112.3 304.0,1112.1 308.0,1110.9 309.8,1110.7 316.2,1112.1 322.5,1111.6 328.5,1112.3 330.5,1111.8 336.0,1109.5 342.0,1109.4 348.2,1107.6 353.5,1107.7 355.5,1107.3 361.8,1104.0 367.8,1102.6 374.2,1099.1 379.8,1098.0 381.8,1097.1 387.8,1092.1 393.8,1088.0 400.5,1080.8 406.5,1076.2 409.0,1073.3 419.5,1058.9 426.5,1045.8 431.8,1037.3 434.2,1032.6 446.0,1005.3 452.5,986.2 459.2,968.4 465.5,949.9 471.8,932.6 485.2,887.6 498.8,837.8 510.8,784.5 523.8,720.2 536.2,651.3 544.8,602.3 556.8,538.7 570.0,471.4 582.0,416.9 595.0,361.7 608.2,310.8 622.0,262.6 633.2,226.1 639.5,208.4 647.8,187.6 651.5,179.7 655.0,173.2 658.0,168.6 661.0,165.1 664.5,162.0 668.0,160.0 671.8,158.9 675.8,158.6 679.5,158.9 683.2,159.7 687.2,161.1 691.0,162.8 699.0,167.4 711.2,175.3 716.8,179.5 725.8,187.8 738.2,203.1 749.5,220.3 752.8,226.0 765.2,251.3 778.2,282.8 803.0,355.7 810.5,381.0 822.2,418.6 830.0,440.6 836.0,459.9 842.5,478.9 848.8,498.7 855.8,517.3 862.2,536.6 868.0,552.3 875.2,574.4 894.2,624.9 901.8,647.2 907.8,662.5 914.0,679.8 920.2,695.1 927.5,715.8 939.2,746.0 946.5,761.9 953.2,778.9 959.5,792.5 965.2,806.2 973.0,820.4 979.0,833.1 985.2,844.4 992.5,859.2 999.0,869.0 1005.2,880.0 1011.2,888.7 1018.2,901.4 1025.0,910.2 1030.2,918.2 1037.0,926.1 1044.5,937.7 1050.8,944.8 1056.8,952.8 1063.8,959.2 1070.2,967.8 1076.5,974.1 1082.5,981.3 1084.5,983.0 1090.0,986.8 1096.2,993.7 1102.8,999.1 1108.8,1005.8 1110.8,1007.2 1115.8,1009.9 1122.0,1015.4 1128.0,1019.2 1135.5,1026.4 1141.8,1029.4 1148.2,1034.1 1154.2,1036.5 1161.8,1042.7 1167.8,1045.1 1174.0,1048.8 1180.8,1050.4 1187.2,1054.7 1193.5,1056.7 1199.0,1059.6 1201.2,1060.2 1205.2,1060.1 1207.2,1060.4 1213.2,1063.3 1219.8,1064.8 1226.0,1067.9 1227.8,1068.2 1231.8,1068.1 1233.8,1068.5 1239.0,1071.0 1245.5,1072.6 1252.5,1076.9 1258.5,1077.9 1265.0,1080.8 1271.2,1082.0 1277.0,1085.7 1279.2,1086.7 1284.8,1087.6 1291.0,1090.0 1297.5,1090.4 1304.2,1093.9 1310.8,1094.9 1316.2,1097.0 1318.2,1097.2 1322.0,1096.7 1324.0,1096.9 1330.0,1099.3 1336.5,1100.1 1342.5,1102.4 1344.5,1102.5 1348.2,1101.8 1350.2,1101.8 1356.2,1103.4 1362.5,1103.6 1367.5,1105.6 1369.5,1106.0 1375.8,1105.0 1382.0,1105.9 1388.2,1105.4 1394.0,1107.4 1395.8,1107.7 1401.8,1106.9 1408.2,1107.7 1414.0,1106.7 1416.0,1107.0 1421.2,1108.9 1427.8,1108.8 1433.2,1109.9 1441.0,1108.8 1447.0,1110.6 1453.5,1110.7 1459.5,1112.3 1461.5,1112.1 1465.8,1111.0 1467.5,1111.0 1473.2,1112.3 1479.5,1112.3 1486.0,1114.2 1487.8,1114.1 1492.8,1113.0 1499.0,1113.9 1505.0,1113.5 1512.5,1115.7 1518.5,1114.8 1525.0,1115.5 1531.2,1114.6 1533.2,1115.0 1537.2,1116.5 1539.0,1116.8 1544.8,1116.2 1551.0,1117.1 1557.8,1115.7 1564.2,1117.5 1570.5,1117.2 1576.2,1118.4 1578.2,1118.2 1582.2,1117.0 1584.2,1116.8 1590.2,1118.1 1596.8,1117.8 1602.8,1119.3 1604.5,1119.2 1609.8,1117.8 1616.2,1118.6 1622.2,1118.1 1627.8,1119.7 1629.5,1119.9 1635.5,1118.7 1642.0,1119.2 1648.0,1118.2 1649.8,1118.4 1653.8,1119.8 1655.8,1120.2 1661.8,1119.3 1668.0,1119.8 1674.5,1118.3 1676.2,1118.6 1681.2,1120.0 1687.5,1119.5 1693.2,1120.3 1695.2,1120.1 1700.8,1118.5 1707.5,1119.7 1713.8,1119.3 1719.5,1120.5 1721.5,1120.3 1726.5,1118.7 1730.0,1119.0" stroke="#008000"/>
<path d="M226.0,1104.8 229.8,1106.6 235.8,1107.5 242.2,1109.9 244.0,1109.9 249.0,1108.9 255.5,1110.0 261.2,1109.6 263.2,1110.0 267.0,1111.4 268.8,1111.6 275.0,1110.4 281.2,1111.1 287.5,1110.3 289.5,1110.7 293.2,1112.1 295.2,1112.4 301.0,1111.7 307.2,1112.3 313.8,1110.9 320.8,1112.5 327.0,1111.5 332.2,1111.6 334.5,1111.0 340.2,1108.4 346.5,1108.3 352.8,1106.2 357.5,1105.9 359.5,1105.5 366.0,1101.5 372.2,1099.8 378.5,1096.2 383.8,1094.6 385.8,1093.5 392.2,1087.4 398.2,1082.8 404.8,1075.5 410.5,1070.6 413.2,1067.2 423.8,1051.2 430.8,1037.5 437.5,1025.3 450.2,993.7 457.0,973.6 464.0,955.0 475.5,921.0 489.8,871.8 502.0,824.6 515.0,764.3 527.0,703.1 548.2,583.5 561.2,516.0 573.2,456.5 586.5,398.1 599.0,346.3 611.5,299.9 626.0,250.0 636.0,218.7 641.2,204.2 649.8,184.1 652.8,178.0 655.8,172.8 659.0,168.2 662.2,164.7 665.2,162.3 668.5,160.6 672.0,159.7 675.8,159.4 679.5,159.7 683.5,160.6 687.8,162.1 691.8,163.9 705.0,172.0 715.8,179.4 719.0,182.0 729.5,192.8 742.2,209.5 745.5,214.5 756.2,233.2 769.5,261.7 782.0,293.8 788.2,313.3 795.0,332.4 801.2,352.1 807.2,369.8 814.8,395.4 827.0,433.6 834.0,453.2 840.5,474.1 846.8,492.2 852.8,510.7 860.5,531.2 879.5,586.8 886.0,603.1 892.5,621.5 898.2,636.5 906.0,659.3 912.2,674.8 918.5,692.0 924.5,706.7 932.0,728.1 943.8,757.1 951.0,772.6 958.0,790.1 970.2,816.5 977.0,828.2 983.5,841.7 989.8,852.8 995.5,864.2 997.8,867.9 1003.2,875.6 1010.0,887.1 1015.5,895.0 1022.2,906.8 1029.2,915.4 1035.5,924.4 1041.8,931.5 1049.2,942.8 1055.0,948.8 1061.2,956.5 1068.0,962.5 1075.0,971.7 1081.0,977.2 1087.0,983.9 1094.2,988.9 1100.5,995.8 1106.8,1000.8 1113.5,1007.6 1120.5,1011.3 1126.5,1016.6 1133.0,1020.8 1139.5,1026.9 1146.0,1029.6 1152.2,1034.0 1158.5,1036.7 1164.2,1041.6 1166.2,1042.8 1172.0,1044.7 1178.5,1048.2 1184.8,1049.6 1190.5,1053.5 1192.5,1054.5 1198.0,1055.8 1204.2,1058.6 1209.5,1058.7 1211.2,1059.0 1217.5,1062.2 1223.8,1063.6 1230.0,1066.5 1232.0,1066.8 1235.8,1066.6 1237.5,1067.0 1243.5,1070.0 1249.8,1071.9 1256.2,1075.8 1258.0,1076.3 1263.0,1076.8 1269.5,1079.8 1275.5,1081.2 1282.5,1085.4 1284.2,1085.8 1289.2,1086.3 1295.5,1088.5 1301.5,1089.0 1303.5,1089.8 1307.5,1092.2 1309.5,1092.9 1315.0,1093.3 1321.2,1095.2 1328.0,1095.0 1334.5,1097.8 1340.8,1098.4 1346.8,1100.3 1348.8,1100.3 1353.0,1099.6 1354.8,1099.7 1360.5,1101.5 1367.0,1101.9 1373.2,1103.9 1380.8,1102.9 1386.5,1104.1 1392.8,1104.0 1399.5,1106.3 1406.0,1105.4 1412.2,1106.3 1418.2,1105.7 1420.0,1106.1 1424.0,1107.8 1426.0,1108.2 1432.0,1107.8 1438.5,1108.7 1444.8,1107.8 1452.2,1110.1 1457.8,1109.9 1464.2,1111.1 1469.5,1109.9 1471.2,1109.8 1477.2,1111.4 1483.8,1111.5 1489.8,1113.1 1491.5,1113.0 1495.8,1111.9 1497.8,1111.7 1503.5,1112.9 1509.8,1112.7 1516.5,1114.7 1523.0,1113.5 1529.2,1114.3 1535.2,1113.7 1537.2,1114.0 1541.2,1115.6 1543.2,1115.9 1549.0,1115.0 1555.5,1115.7 1561.8,1114.6 1568.8,1116.6 1575.0,1116.1 1580.8,1117.0 1588.2,1115.5 1594.5,1117.1 1600.8,1116.8 1607.0,1118.0 1609.0,1117.8 1612.8,1116.6 1614.8,1116.4 1620.5,1117.5 1627.0,1117.2 1633.2,1118.7 1640.5,1117.2 1646.2,1117.8 1652.8,1117.2 1658.0,1118.8 1660.0,1119.0 1665.8,1117.9 1672.2,1118.3 1678.5,1117.1 1680.2,1117.4 1685.8,1119.0 1692.0,1118.2 1697.8,1118.8 1705.0,1117.1 1711.5,1118.6 1717.8,1118.1 1723.8,1119.0 1725.8,1118.7 1730.0,1117.3" stroke="#0000a0"/>
<path d="M226.0,1102.1 228.5,1102.5 234.0,1104.2 240.8,1104.2 246.0,1106.4 248.0,1106.9 253.8,1106.5 260.0,1107.3 266.8,1106.0 273.2,1107.7 279.8,1107.5 285.8,1108.6 287.8,1108.3 291.5,1107.2 293.2,1107.0 299.0,1108.3 305.5,1108.1 312.0,1109.4 319.5,1107.5 325.2,1108.0 331.5,1107.0 336.8,1108.0 338.8,1108.0 345.0,1105.7 351.2,1104.8 357.8,1101.9 364.2,1101.3 366.2,1100.3 371.0,1097.2 377.0,1094.5 384.0,1088.8 390.5,1086.0 396.8,1080.4 402.2,1076.2 404.5,1073.6 409.8,1066.5 415.0,1061.2 417.2,1058.4 427.5,1043.5 430.8,1037.6 442.5,1012.1 456.2,977.5 481.0,903.6 495.0,852.5 507.8,799.7 519.0,745.7 533.5,667.8 553.8,555.1 565.2,496.8 578.2,435.3 592.0,375.9 605.2,324.3 616.0,285.2 630.5,237.6 637.2,217.2 643.5,199.9 650.2,184.9 653.5,178.5 656.2,173.8 659.0,170.1 662.2,166.6 665.5,164.0 668.5,162.4 672.0,161.4 675.8,161.2 680.0,161.6 684.5,162.6 689.0,164.3 694.2,166.9 709.0,175.9 722.5,186.7 732.5,197.7 736.0,202.2 748.2,221.0 760.2,242.3 773.2,273.0 787.2,310.0 799.5,347.7 806.2,370.1 813.2,390.5 832.0,450.6 851.2,505.7 859.2,530.6 865.0,545.9 871.2,563.9 877.5,580.1 885.2,603.3 890.8,617.7 897.0,635.4 904.0,652.6 910.2,670.9 916.5,687.2 922.5,704.2 930.0,721.9 936.2,738.8 942.2,753.2 949.8,772.5 956.0,785.1 962.5,799.9 968.5,811.8 976.0,828.6 982.0,838.8 988.2,850.7 994.8,861.0 1001.5,874.3 1008.0,883.9 1013.5,893.0 1020.5,901.9 1027.5,913.4 1033.8,921.5 1039.5,930.0 1047.0,937.6 1053.2,946.3 1059.5,953.1 1065.2,960.8 1067.5,963.1 1072.8,967.0 1079.2,974.2 1085.2,979.2 1092.2,987.2 1098.8,991.4 1105.2,997.5 1111.0,1001.5 1119.0,1010.1 1125.0,1013.8 1131.0,1018.6 1137.8,1021.8 1144.8,1028.1 1150.8,1031.2 1157.0,1035.7 1162.5,1037.1 1164.2,1037.9 1170.2,1042.3 1176.5,1044.9 1182.8,1048.9 1184.5,1049.5 1190.2,1050.2 1196.2,1053.3 1202.8,1055.1 1209.2,1058.6 1211.0,1058.9 1215.8,1059.0 1222.2,1061.3 1227.8,1061.9 1229.8,1062.7 1233.8,1065.3 1235.8,1066.2 1241.5,1067.0 1248.0,1069.6 1254.2,1070.5 1256.2,1071.4 1261.5,1074.8 1267.8,1076.3 1273.5,1078.9 1275.2,1079.2 1280.8,1079.4 1287.2,1082.7 1293.8,1084.0 1299.2,1086.4 1301.2,1086.7 1305.5,1086.2 1307.5,1086.4 1313.5,1088.7 1319.8,1089.6 1326.0,1092.3 1327.8,1092.4 1333.0,1091.9 1339.2,1093.7 1345.0,1094.0 1347.0,1094.6 1351.0,1096.7 1353.0,1097.2 1358.5,1096.9 1365.0,1098.4 1371.2,1098.2 1373.2,1098.8 1377.2,1100.8 1379.2,1101.3 1384.8,1101.3 1391.0,1102.6 1397.8,1101.9 1404.5,1104.3 1410.8,1104.5 1416.8,1106.1 1418.8,1105.9 1422.5,1105.0 1424.5,1105.0 1430.5,1106.7 1437.0,1106.9 1443.0,1108.7 1444.8,1108.6 1450.0,1107.5 1456.2,1108.7 1462.0,1108.5 1469.5,1110.8 1475.8,1109.8 1482.0,1110.7 1488.0,1110.0 1489.8,1110.3 1493.8,1111.9 1495.8,1112.3 1502.0,1111.7 1508.2,1112.5 1514.5,1111.4 1522.0,1113.5 1527.8,1113.2 1534.0,1114.2 1541.0,1112.7 1547.2,1114.3 1553.5,1114.2 1559.5,1115.6 1561.5,1115.4 1565.5,1114.2 1567.5,1114.0 1573.2,1115.1 1579.8,1114.8 1586.2,1116.6 1592.8,1115.2 1599.2,1115.9 1605.0,1115.2 1607.0,1115.5 1611.2,1117.0 1613.0,1117.2 1619.0,1116.2 1625.2,1116.7 1631.5,1115.5 1638.5,1117.4 1644.8,1116.8 1650.5,1117.5 1658.0,1115.9 1664.2,1117.4 1670.5,1117.0 1676.8,1118.1 1678.8,1117.8 1682.8,1116.4 1684.5,1116.2 1690.5,1117.3 1696.8,1116.9 1703.0,1118.3 1704.8,1118.1 1710.0,1116.6 1716.2,1117.2 1722.0,1116.4 1724.0,1116.7 1728.0,1118.0 1730.0,1118.2" stroke="#ff8000"/>
<path d="M236.8,1116.7 236.8,1105.8 246.0,1107.1 257.2,1107.9 297.8,1109.4 311.5,1109.6 322.5,1109.4 332.2,1108.7 341.2,1107.5 349.8,1105.8 349.8,1116.7Z" fill="#800080" stroke="none"/>
<path d="M1430.2,1116.7 1430.2,1106.7 1464.8,1109.4 1500.0,1111.7 1536.0,1113.6 1572.8,1115.1 1610.5,1116.2 1649.2,1116.9 1689.0,1117.2 1730.0,1117.1 1730.0,1116.7Z" fill="#800080" stroke="none"/>
<path d="M226.0,1103.3 231.5,1104.8 237.5,1106.0 244.2,1106.9 251.8,1107.6 261.8,1108.1 297.0,1109.4 306.2,1109.6 314.2,1109.6 321.5,1109.5 328.2,1109.1 334.8,1108.4 340.8,1107.6 346.5,1106.6 352.0,1105.2 357.5,1103.6 362.8,1101.8 368.8,1099.4 374.5,1096.6 380.0,1093.6 385.5,1090.2 390.8,1086.5 395.8,1082.6 400.5,1078.4 405.0,1073.9 409.5,1069.0 413.8,1063.9 418.0,1058.2 422.2,1052.0 426.2,1045.7 430.2,1038.7 434.0,1031.7 438.0,1023.6 442.0,1015.0 446.2,1005.3 451.0,994.0 455.8,982.2 460.2,970.6 464.5,959.2 472.8,935.7 480.5,911.7 488.0,886.6 495.0,861.1 502.0,833.6 507.0,812.5 512.0,790.1 517.0,766.5 522.0,741.6 530.8,695.4 547.2,604.1 554.8,563.7 563.5,518.5 572.2,475.7 582.0,430.8 587.0,409.0 592.0,387.9 597.0,367.5 602.0,347.8 607.2,327.9 612.5,308.7 618.0,289.3 623.5,270.5 629.2,251.7 635.0,233.5 638.8,222.3 642.2,212.5 645.8,203.5 649.5,194.7 653.2,186.8 656.2,181.1 659.2,176.4 660.8,174.4 662.5,172.4 664.0,170.8 665.8,169.3 667.5,168.1 669.2,167.1 671.0,166.3 672.8,165.8 674.5,165.5 676.5,165.4 678.2,165.5 680.2,165.8 684.0,166.8 688.0,168.5 692.2,170.8 704.5,178.9 712.5,184.4 718.8,189.2 724.2,194.1 728.8,198.7 733.0,203.5 737.2,208.9 741.8,215.1 746.2,221.9 750.5,228.8 754.8,236.3 758.8,243.9 762.0,250.5 765.0,257.0 771.5,272.2 778.8,290.9 786.2,311.6 791.5,326.9 797.2,344.2 822.5,423.4 830.5,447.8 839.0,473.3 849.0,502.7 859.8,533.6 871.0,565.3 882.8,597.9 907.0,663.7 919.5,697.1 928.5,720.7 936.0,739.7 943.0,756.9 949.8,772.9 956.5,788.2 964.0,804.5 971.5,819.9 979.2,835.0 987.0,849.4 995.0,863.5 1003.2,877.3 1011.5,890.4 1020.0,903.1 1028.8,915.6 1037.5,927.3 1046.5,938.7 1055.8,949.8 1065.2,960.4 1074.8,970.5 1084.5,980.2 1094.2,989.3 1104.8,998.4 1115.2,1007.0 1126.0,1015.1 1136.8,1022.7 1147.5,1029.6 1158.2,1036.0 1169.0,1041.7 1179.5,1046.8 1189.0,1050.8 1198.5,1054.4 1207.5,1057.3 1228.5,1063.4 1238.0,1066.4 1248.2,1070.0 1272.5,1079.1 1284.2,1083.1 1294.0,1086.1 1304.2,1088.9 1314.8,1091.4 1325.8,1093.8 1340.2,1096.5 1355.5,1098.8 1372.0,1101.0 1391.0,1103.1 1417.8,1105.6 1445.5,1108.0 1473.8,1110.0 1502.2,1111.8 1529.0,1113.2 1556.0,1114.4 1583.5,1115.4 1611.8,1116.2 1640.2,1116.7 1669.5,1117.1 1699.5,1117.2 1730.0,1117.1" stroke="#800080"/>
</g>
<g>
<rect x="1200" y="89" width="318" height="835" fill="#fff"/>
<rect x="1200" y="89" width="318" height="2.2" fill="#000"/>
<rect x="1515.8" y="89" width="2.6" height="835" fill="#000"/>
<rect x="1200" y="91" width="2.2" height="833" fill="#c8c8c8"/>
<rect x="1200" y="921.7" width="316" height="2.3" fill="#c0c0c0"/>
<rect x="1216" y="129.6" width="126" height="10.4" rx="1.5" fill="#000000"/>
<text class="lg" x="1349" y="153.0">0 min</text>
<rect x="1216" y="192.2" width="126" height="10.4" rx="1.5" fill="#ff0000"/>
<text class="lg" x="1349" y="215.6">1 min</text>
<rect x="1216" y="255.7" width="126" height="10.4" rx="1.5" fill="#0000ff"/>
<text class="lg" x="1349" y="279.1">2 min</text>
<rect x="1216" y="320.0" width="126" height="10.4" rx="1.5" fill="#008080"/>
<text class="lg" x="1349" y="343.4">4 min</text>
<rect x="1216" y="382.8" width="126" height="10.4" rx="1.5" fill="#ff00ff"/>
<text class="lg" x="1349" y="406.2">5 min</text>
<rect x="1216" y="446.8" width="126" height="10.4" rx="1.5" fill="#808000"/>
<text class="lg" x="1349" y="470.2">6 min</text>
<rect x="1216" y="508.9" width="126" height="10.4" rx="1.5" fill="#000080"/>
<text class="lg" x="1349" y="532.3">7 min</text>
<rect x="1216" y="573.4" width="126" height="10.4" rx="1.5" fill="#800000"/>
<text class="lg" x="1349" y="596.8">9 min</text>
<rect x="1216" y="636.4" width="126" height="10.4" rx="1.5" fill="#ff0080"/>
<text class="lg" x="1349" y="659.8">10 min</text>
<rect x="1216" y="699.6" width="126" height="10.4" rx="1.5" fill="#008000"/>
<text class="lg" x="1349" y="723.0">15 min</text>
<rect x="1216" y="763.8" width="126" height="10.4" rx="1.5" fill="#0000a0"/>
<text class="lg" x="1349" y="787.2">20 min</text>
<rect x="1216" y="826.5" width="126" height="10.4" rx="1.5" fill="#ff8000"/>
<text class="lg" x="1349" y="849.9">25 min</text>
<rect x="1216" y="890.5" width="126" height="10.4" rx="1.5" fill="#800080"/>
<text class="lg" x="1349" y="913.9">30 min</text>
</g>
</svg></body></html>
